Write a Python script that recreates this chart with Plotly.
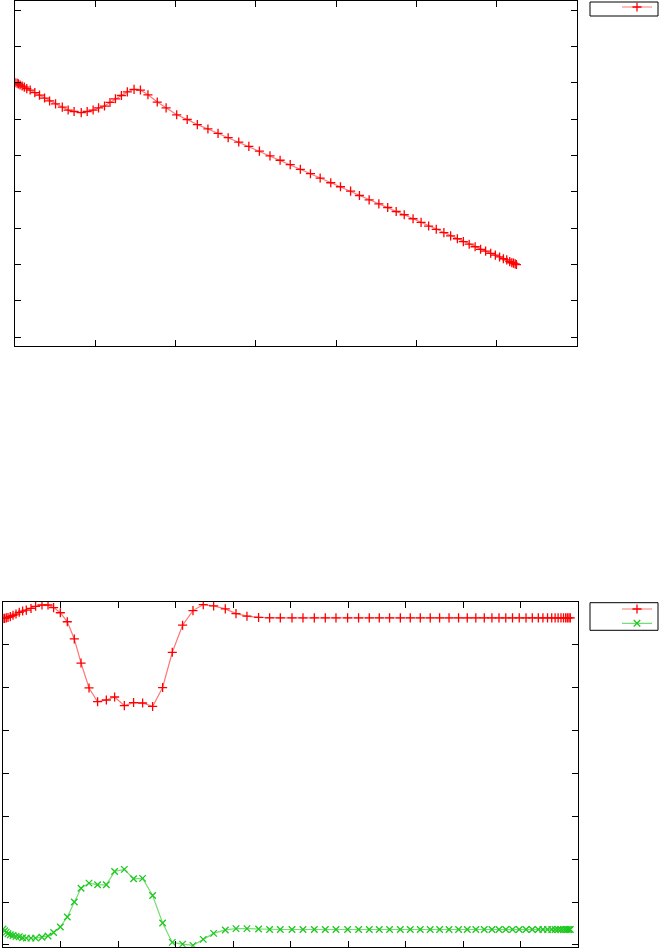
import plotly.graph_objects as go

W, H = 661, 949

# ---- top panel data ----
top_x = [0, 0.026, 0.042, 0.063, 0.089, 0.116, 0.147, 0.189, 0.247, 0.305,
         0.368, 0.431, 0.505, 0.589, 0.662, 0.736, 0.825, 0.899, 0.973, 1.041,
         1.115, 1.183, 1.251, 1.325, 1.399, 1.483, 1.562, 1.656, 1.772, 1.882,
         2.014, 2.145, 2.271, 2.403, 2.529, 2.655, 2.787, 2.913, 3.044, 3.176,
         3.302, 3.428, 3.554, 3.680, 3.801, 3.933, 4.054, 4.180, 4.290, 4.411,
         4.532, 4.642, 4.748, 4.848, 4.958, 5.058, 5.152, 5.247, 5.342, 5.426,
         5.510, 5.584, 5.657, 5.731, 5.799, 5.862, 5.925, 5.983, 6.036, 6.083,
         6.125, 6.162, 6.188, 6.209, 6.230, 6.246]
top_y = [7.00, 6.99, 6.97, 6.94, 6.91, 6.88, 6.84, 6.80, 6.73, 6.66,
         6.58, 6.50, 6.42, 6.33, 6.25, 6.21, 6.18, 6.21, 6.25, 6.31,
         6.36, 6.46, 6.56, 6.65, 6.75, 6.82, 6.80, 6.67, 6.47, 6.31,
         6.12, 5.99, 5.85, 5.73, 5.61, 5.49, 5.37, 5.25, 5.12, 4.99,
         4.87, 4.75, 4.62, 4.50, 4.38, 4.25, 4.14, 4.02, 3.90, 3.78,
         3.67, 3.57, 3.46, 3.37, 3.26, 3.16, 3.06, 2.97, 2.88, 2.79,
         2.71, 2.63, 2.56, 2.49, 2.42, 2.37, 2.31, 2.26, 2.21, 2.16,
         2.13, 2.08, 2.05, 2.04, 2.02, 2.00]

# ---- bottom panel data ----
bot_x = [0, 0.028, 0.057, 0.087, 0.127, 0.174, 0.226, 0.283, 0.341, 0.405,
         0.487, 0.567, 0.678, 0.783, 0.880, 0.997, 1.118, 1.240, 1.357, 1.496,
         1.645, 1.797, 1.941, 2.110, 2.271, 2.428, 2.602, 2.776, 2.944, 3.123,
         3.304, 3.483, 3.663, 3.866, 4.052, 4.243, 4.445, 4.637, 4.823, 5.026,
         5.217, 5.414, 5.605, 5.791, 5.993, 6.184, 6.370, 6.544, 6.723, 6.910,
         7.083, 7.257, 7.430, 7.593, 7.757, 7.923, 8.074, 8.223, 8.370, 8.503,
         8.626, 8.744, 8.861, 8.978, 9.096, 9.205, 9.310, 9.390, 9.470, 9.543,
         9.602, 9.654, 9.704, 9.748, 9.786, 9.814, 9.843, 9.866]
bot_red = [7.60, 7.60, 7.61, 7.62, 7.64, 7.67, 7.70, 7.74, 7.77, 7.79,
           7.83, 7.88, 7.91, 7.91, 7.85, 7.73, 7.52, 7.12, 6.56, 5.98,
           5.66, 5.70, 5.77, 5.57, 5.64, 5.63, 5.55, 5.99, 6.81, 7.44,
           7.78, 7.92, 7.89, 7.82, 7.71, 7.65, 7.62, 7.61, 7.61, 7.61,
           7.61, 7.61, 7.61, 7.61, 7.61, 7.61, 7.61, 7.61, 7.61, 7.61,
           7.61, 7.61, 7.61, 7.61, 7.61, 7.61, 7.61, 7.61, 7.61, 7.61,
           7.61, 7.61, 7.61, 7.61, 7.61, 7.61, 7.61, 7.61, 7.61, 7.61,
           7.61, 7.61, 7.61, 7.61, 7.61, 7.61, 7.61, 7.61]
bot_green = [0.37, 0.33, 0.30, 0.26, 0.24, 0.22, 0.20, 0.19, 0.17, 0.16,
             0.16, 0.16, 0.18, 0.21, 0.29, 0.42, 0.65, 1.00, 1.32, 1.44,
             1.40, 1.40, 1.71, 1.76, 1.54, 1.55, 1.15, 0.51, 0.06, 0.02,
             -0.01, 0.13, 0.27, 0.35, 0.38, 0.38, 0.37, 0.36, 0.36, 0.36,
             0.36, 0.36, 0.36, 0.36, 0.36, 0.36, 0.36, 0.36, 0.36, 0.36,
             0.36, 0.36, 0.36, 0.36, 0.36, 0.36, 0.36, 0.36, 0.36, 0.36,
             0.36, 0.36, 0.36, 0.36, 0.36, 0.36, 0.36, 0.36, 0.36, 0.36,
             0.36, 0.36, 0.36, 0.36, 0.36, 0.36, 0.36, 0.36]

RED = "rgb(255,0,0)"
RED_LINE = "rgba(255,60,60,0.7)"
GREEN = "rgb(30,200,30)"
GREEN_LINE = "rgba(60,205,60,0.7)"

fig = go.Figure()
fig.add_trace(go.Scatter(
    x=top_x, y=top_y, mode="lines+markers", name=" ",
    line=dict(color=RED_LINE, width=1.2),
    marker=dict(symbol="cross-thin-open", size=6.5, color=RED, line=dict(color=RED, width=1.3)),
    xaxis="x", yaxis="y", legend="legend"))
fig.add_trace(go.Scatter(
    x=bot_x, y=bot_red, mode="lines+markers", name=" ",
    line=dict(color=RED_LINE, width=1.2),
    marker=dict(symbol="cross-thin-open", size=6.5, color=RED, line=dict(color=RED, width=1.3)),
    xaxis="x2", yaxis="y2", legend="legend2"))
fig.add_trace(go.Scatter(
    x=bot_x, y=bot_green, mode="lines+markers", name=" ",
    line=dict(color=GREEN_LINE, width=1.2),
    marker=dict(symbol="x-thin-open", size=6.5, color=GREEN, line=dict(color=GREEN, width=1.3)),
    xaxis="x2", yaxis="y2", legend="legend3"))

ax_common = dict(showline=True, linecolor="black", linewidth=1, mirror="allticks",
                 ticks="inside", ticklen=6, tickcolor="black", tickwidth=1,
                 showgrid=False, zeroline=False, showticklabels=False, fixedrange=True)


def px_x(p):
    return p / W


def px_y(p):
    return 1 - p / H


leg_common = dict(bgcolor="rgba(0,0,0,0)", borderwidth=0, xanchor="left", yanchor="middle",
                  font=dict(size=10, family="Liberation Sans"), itemwidth=30)

fig.update_layout(
    width=W, height=H, margin=dict(l=0, r=0, t=0, b=0, autoexpand=False),
    paper_bgcolor="white", plot_bgcolor="white",
    xaxis=dict(domain=[px_x(15), px_x(577)], range=[0, 7], dtick=1, tick0=0, anchor="y", **ax_common),
    yaxis=dict(domain=[px_y(346), px_y(1)], range=[-0.24, 9.25], dtick=1, tick0=0, anchor="x", **ax_common),
    xaxis2=dict(domain=[px_x(3), px_x(578)], range=[0, 10], dtick=1, tick0=0, anchor="y2", **ax_common),
    yaxis2=dict(domain=[px_y(946.7), px_y(602)], range=[-0.04, 7.98], dtick=1, tick0=0, anchor="x2", **ax_common),
    legend=dict(x=px_x(617), y=px_y(7), **leg_common),
    legend2=dict(x=px_x(617), y=px_y(609), **leg_common),
    legend3=dict(x=px_x(617), y=px_y(623.3), **leg_common),
    shapes=[
        dict(type="rect", xref="paper", yref="paper", x0=px_x(590), x1=px_x(658), y0=px_y(16), y1=px_y(2),
             line=dict(color="black", width=1)),
        dict(type="rect", xref="paper", yref="paper", x0=px_x(590), x1=px_x(658), y0=px_y(630.3), y1=px_y(602.7),
             line=dict(color="black", width=1)),
    ],
    showlegend=True,
)

fig.write_html("out.html", config={"displayModeBar": False},
               post_script="document.body.style.margin='0px';document.body.style.overflow='hidden';")
